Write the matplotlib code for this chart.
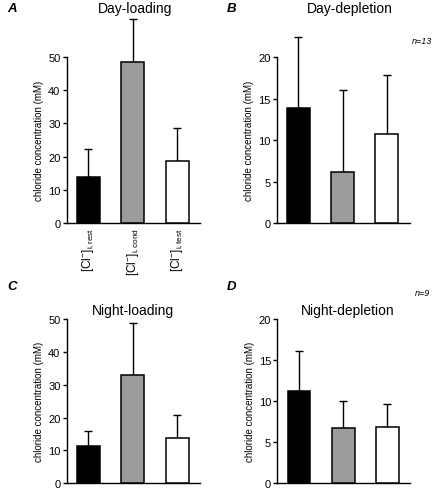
import matplotlib
matplotlib.use("Agg")
import matplotlib.pyplot as plt

# --- Data ---
conditions = [r"[Cl$^{-}$]$_{\mathrm{i,rest}}$",
              r"[Cl$^{-}$]$_{\mathrm{i,cond}}$",
              r"[Cl$^{-}$]$_{\mathrm{i,test}}$"]

day_loading_mean = [13.9, 48.6, 18.8]
day_loading_err = [8.4, 12.8, 9.7]

day_depletion_mean = [13.9, 6.2, 10.7]
day_depletion_err = [8.5, 9.9, 7.1]

night_loading_mean = [11.4, 32.9, 13.7]
night_loading_err = [4.5, 15.8, 7.1]

night_depletion_mean = [11.25, 6.7, 6.9]
night_depletion_err = [4.8, 3.35, 2.7]

bar_colors = ["black", "#9c9c9c", "white"]

plt.rcParams['font.family'] = ['Liberation Sans', 'DejaVu Sans']
plt.rcParams['mathtext.fontset'] = 'custom'
plt.rcParams['mathtext.rm'] = 'Liberation Sans'
plt.rcParams['mathtext.it'] = 'Liberation Sans:italic'

fig = plt.figure(figsize=(4.39, 4.89), dpi=100)

panels = [
    # letter, title, means, errs, ymax, yticks, rect, n-label
    ("A", "Day-loading", day_loading_mean, day_loading_err, 50,
     [0, 10, 20, 30, 40, 50], [0.152, 0.542, 0.304, 0.339], None),
    ("B", "Day-depletion", day_depletion_mean, day_depletion_err, 20,
     [0, 5, 10, 15, 20], [0.630, 0.542, 0.304, 0.339], "n=13"),
    ("C", "Night-loading", night_loading_mean, night_loading_err, 50,
     [0, 10, 20, 30, 40, 50], [0.152, 0.0096, 0.304, 0.336], None),
    ("D", "Night-depletion", night_depletion_mean, night_depletion_err, 20,
     [0, 5, 10, 15, 20], [0.632, 0.0096, 0.302, 0.336], "n=9"),
]

x = [0, 1, 2]
for letter, title, means, errs, ymax, yticks, rect, nlab in panels:
    ax = fig.add_axes(rect)
    ax.bar(x, means, width=0.52, color=bar_colors, edgecolor="black",
           linewidth=1.1, zorder=3)
    ax.errorbar(x, means, yerr=[[0, 0, 0], errs], fmt="none",
                ecolor="black", elinewidth=1.0, capsize=3, capthick=1.0,
                clip_on=False, zorder=2)
    ax.set_xlim(-0.49, 2.52)
    ax.set_ylim(0, ymax)
    ax.set_yticks(yticks)
    ax.spines["top"].set_visible(False)
    ax.spines["right"].set_visible(False)
    ax.spines["left"].set_linewidth(1.0)
    ax.spines["bottom"].set_linewidth(1.0)
    ax.tick_params(axis="y", labelsize=8, length=3, width=1.0, pad=1.5)
    ax.tick_params(axis="x", length=0)
    ax.set_ylabel("chloride concentration (mM)", fontsize=7, labelpad=3)
    if letter == "A":
        ax.set_xticks(x)
        ax.set_xticklabels(conditions, rotation=90, fontsize=8.5)
        ax.tick_params(axis="x", pad=3)
    else:
        ax.set_xticks([])

    # panel letter, title and n
    fx = rect[0]
    if letter in ("A", "B"):
        ty = 1 - 9 / 489
        fig.text(fx - 0.135 if letter == "A" else fx - 0.113, ty, letter,
                 fontsize=9.5, fontweight="bold", style="italic",
                 ha="left", va="center")
        fig.text(135 / 439 if letter == "A" else 350 / 439, ty, title,
                 fontsize=10, ha="center", va="center")
    else:
        fig.text(fx - 0.135 if letter == "C" else fx - 0.115, 1 - 287 / 489,
                 letter, fontsize=9.5, fontweight="bold", style="italic",
                 ha="left", va="center")
        fig.text(133 / 439 if letter == "C" else 348 / 439, 1 - 311 / 489,
                 title, fontsize=10, ha="center", va="center")
    if nlab:
        ny = 1 - (42 / 489 if letter == "B" else 294 / 489)
        fig.text(422 / 439, ny, nlab, fontsize=6.5, style="italic",
                 ha="center", va="center")

fig.savefig("out.png", dpi=100)
